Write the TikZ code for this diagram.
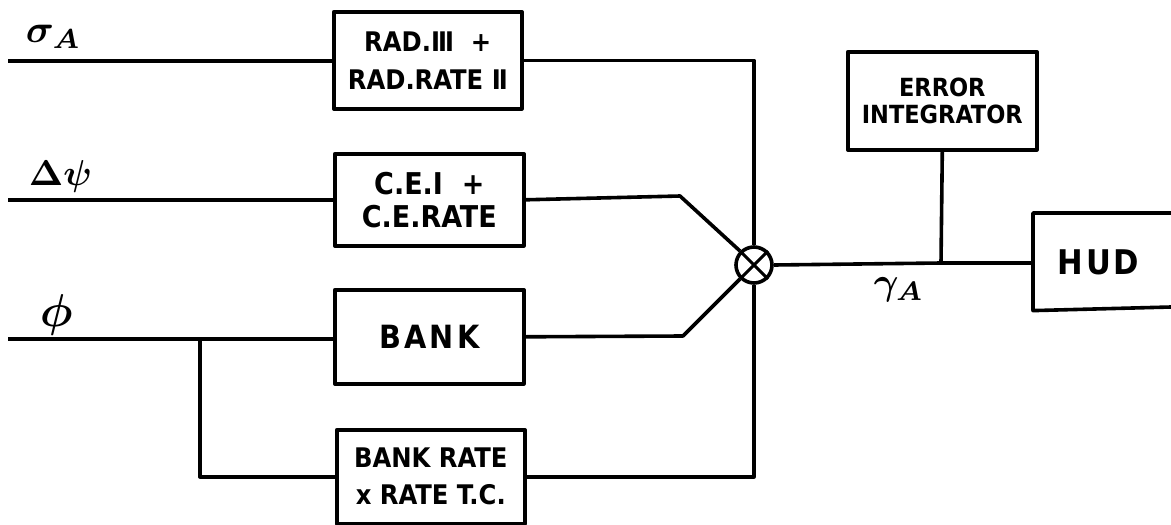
\documentclass[tikz,border=0pt]{standalone}
\usepackage{fontspec}
\newfontfamily\hand{DejaVu Sans Condensed}
\newcommand{\biglbl}[2]{\scalebox{#1}{\boldmath$#2$}}
\begin{document}
\begin{tikzpicture}[x=1pt,y=-1pt,line width=3.6pt,line join=round,
  blk/.style={draw,anchor=north west,inner sep=0pt,align=center},
  lbl/.style={inner sep=0pt}]
\useasboundingbox (0,0) rectangle (1171,525);
% blocks
\node[blk,minimum width=188,minimum height=97,font=\hand\bfseries\fontsize{27}{38}\selectfont] (rad) at (332,10) {RAD.Ⅲ\ \ +\\RAD.RATE Ⅱ};
\node[blk,minimum width=189,minimum height=92,font=\hand\bfseries\fontsize{30}{33}\selectfont] (cei) at (333,152) {C.E.I\ \ +\\C.E.RATE};
\node[blk,minimum width=189,minimum height=94,font=\hand\bfseries\addfontfeature{LetterSpace=10}\fontsize{32}{32}\selectfont] (bank) at (333,288) {BANK};
\node[blk,minimum width=188,minimum height=94,font=\hand\bfseries\fontsize{27}{37}\selectfont] (br) at (335,428) {BANK RATE\\x RATE T.C.};
\node[blk,minimum width=189,minimum height=98,font=\hand\bfseries\fontsize{25}{27}\selectfont] (ei) at (846,50) {ERROR\\INTEGRATOR};
\node[anchor=north west,inner sep=0pt,minimum width=160,minimum height=94] (hud) at (1033,213) {};
\node[font=\hand\bfseries\addfontfeature{LetterSpace=8}\fontsize{34}{34}\selectfont,anchor=west,inner sep=0pt] (hudt) at (1056,262) {HUD};
\draw (1171,213) -- (hud.north west) -- (hud.south west) -- (1171,307);
% summing junction
\node[draw,circle,minimum size=36,inner sep=0pt] (sum) at (754,265) {};
\draw[line width=3pt] (sum.45) -- (sum.225) (sum.135) -- (sum.315);
% inputs
\coordinate (sA) at (8,61);
\coordinate (dP) at (8,200);
\coordinate (ph) at (8,339);
\coordinate (pb) at (200,339);
\draw (sA) -- (sA -| rad.west);
\draw (dP) -- (dP -| cei.west);
\draw (ph) -- (ph -| bank.west);
\draw (pb) |- (br.west);
% input labels
\node[lbl,anchor=south west] (lsA) at (24,50) {\biglbl{3.9}{\sigma_{A}}};
\node[lbl,anchor=south west] (ldP) at (27,194) {\biglbl{3.6}{\Delta\psi}};
\node[lbl,anchor=south west] (lph) at (38,337) {\biglbl{4.6}{\phi}};
% to summing junction
\coordinate (cb) at (680,196);
\coordinate (bb) at (683,336);
\draw (rad.east) -| (sum.north);
\draw (cei.east) -- (cb) -- (sum.135);
\draw (bank.east) -- (bb) -- (sum.225);
\draw (br.east) -| (sum.south);
% output
\coordinate (ej) at (941,263);
\draw (sum.east) -- (ej) -- (hud.west |- ej);
\draw (ei.south) -- (ej);
\node[lbl,anchor=north west] (lgA) at (872,276) {\biglbl{3.8}{\gamma_{A}}};
\end{tikzpicture}
\end{document}
